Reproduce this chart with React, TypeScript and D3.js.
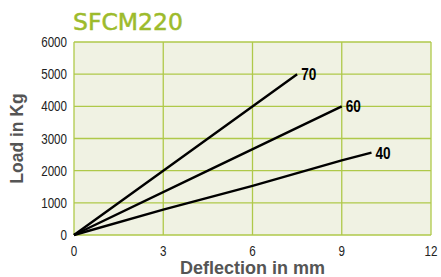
import * as d3 from "d3";

const title = "SFCM220";
const xTicks = [0, 3, 6, 9, 12];
const yTicks = [0, 1000, 2000, 3000, 4000, 5000, 6000];

const series = [
  { name: "70", points: [[0, 0], [3, 2000], [7.5, 5000]] },
  { name: "60", points: [[0, 0], [4.5, 2000], [9, 4000]] },
  { name: "40", points: [[0, 0], [3, 790], [6, 1530], [9, 2320], [10, 2560]] },
];

const W = 441;
const H = 277;
const margin = { left: 74, right: 10, top: 42, bottom: 42 };

// condensed look: squeeze Liberation Sans horizontally
const Narrow = ({ x, y, anchor = "start", size = 14, bold = false, children }: any) => (
  <text
    transform={`translate(${x},${y}) scale(0.8,1)`}
    textAnchor={anchor}
    fontFamily="'Liberation Sans', Arial, sans-serif"
    fontWeight={bold ? "bold" : "normal"}
    fontSize={size}
    fill={bold ? "#000" : "#222"}
  >
    {children}
  </text>
);

const App = () => {
  const x = d3.scaleLinear().domain([0, 12]).range([margin.left, W - margin.right]);
  const y = d3.scaleLinear().domain([0, 6000]).range([H - margin.bottom, margin.top]);
  const line = d3
    .line<number[]>()
    .x((d) => x(d[0]))
    .y((d) => y(d[1]));

  return (
    <svg
      width={W}
      height={H}
      style={{ position: "absolute", left: 0, top: 0, background: "#fff" }}
    >
      <text
        x={73}
        y={30}
        fill="#9dbb2c"
        stroke="#9dbb2c"
        strokeWidth={0.5}
        fontFamily="'DejaVu Sans', sans-serif"
        fontSize={23.5}
      >
        {title}
      </text>
      <rect
        x={x(0)}
        y={y(6000)}
        width={x(12) - x(0)}
        height={y(0) - y(6000)}
        fill="#f0f2e3"
      />
      {yTicks.map((t) => (
        <g key={"y" + t}>
          <line x1={x(0)} x2={x(12)} y1={y(t)} y2={y(t)} stroke="#afc94a" strokeWidth={1.3} />
          <Narrow x={x(0) - 7} y={y(t) + 5} anchor="end" size={14.5}>
            {t}
          </Narrow>
        </g>
      ))}
      {xTicks.map((t) => (
        <g key={"x" + t}>
          <line x1={x(t)} x2={x(t)} y1={y(0)} y2={y(6000)} stroke="#afc94a" strokeWidth={1.3} />
          <Narrow x={x(t)} y={y(0) + 21} anchor="middle" size={14.5}>
            {t}
          </Narrow>
        </g>
      ))}
      {series.map((s) => {
        const last = s.points[s.points.length - 1];
        return (
          <g key={s.name}>
            <path d={line(s.points) ?? ""} fill="none" stroke="#000" strokeWidth={2.4} />
            <Narrow x={x(last[0]) + 4} y={y(last[1]) + 6} size={17} bold>
              {s.name}
            </Narrow>
          </g>
        );
      })}
      <text
        x={(x(0) + x(12)) / 2}
        y={274}
        textAnchor="middle"
        fontFamily="'Liberation Sans', Arial, sans-serif"
        fontWeight="bold"
        fontSize={18}
        fill="#555"
      >
        Deflection in mm
      </text>
      <text
        transform={`translate(23,${(y(0) + y(6000)) / 2}) rotate(-90)`}
        textAnchor="middle"
        fontFamily="'Liberation Sans', Arial, sans-serif"
        fontWeight="bold"
        fontSize={17.5}
        fill="#555"
      >
        Load in Kg
      </text>
    </svg>
  );
};

export default App;
